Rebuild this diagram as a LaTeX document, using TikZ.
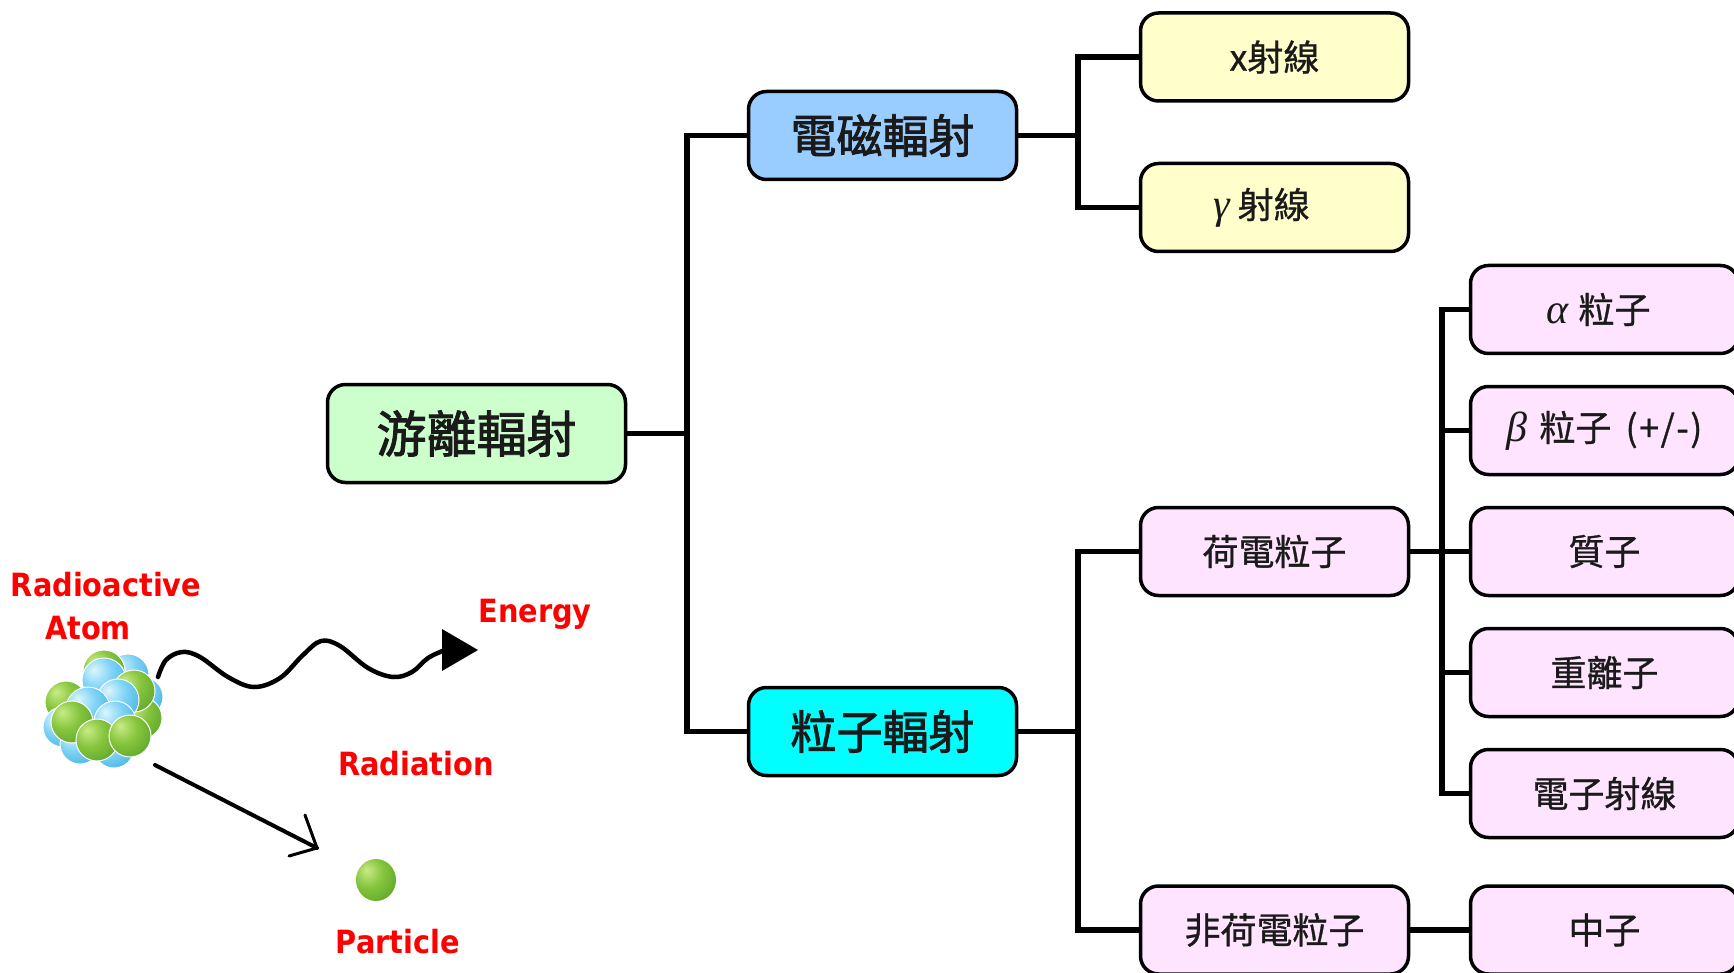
\documentclass[tikz,border=0pt]{standalone}
\usepackage{fontspec}
\newfontfamily\cjk{Noto Sans CJK TC}[FakeBold=0.8]
\newfontfamily\cjkbig{Noto Sans CJK TC}[FakeBold=1.8]
\newfontfamily\grk{Liberation Serif}
\newfontfamily\lab{DejaVu Sans}[FakeStretch=0.9]
\usetikzlibrary{calc}

\definecolor{greenbox}{HTML}{CCFFCC}
\definecolor{bluebox}{HTML}{99CCFF}
\definecolor{cyanbox}{HTML}{00FFFF}
\definecolor{yellowbox}{HTML}{FFFFCC}
\definecolor{pinkbox}{HTML}{FFE4FF}
\definecolor{ink}{HTML}{1A1A1A}
\definecolor{labred}{HTML}{FF0000}
\definecolor{blueHi}{HTML}{DDF6FF}
\definecolor{blueMid}{HTML}{7FD3F5}
\definecolor{blueLo}{HTML}{2FA8DC}
\definecolor{greenHi}{HTML}{C8EC86}
\definecolor{greenMid}{HTML}{86C53E}
\definecolor{greenLo}{HTML}{4E9A22}

% glossy spheres for the nucleus
\pgfdeclareradialshading{bluesph}{\pgfpoint{-12bp}{12bp}}{%
  color(0bp)=(blueHi); color(18bp)=(blueMid); color(45bp)=(blueLo); color(80bp)=(blueLo)}
\pgfdeclareradialshading{greensph}{\pgfpoint{-12bp}{12bp}}{%
  color(0bp)=(greenHi); color(18bp)=(greenMid); color(45bp)=(greenLo); color(80bp)=(greenLo)}

\newcommand{\gk}[1]{{\grk\itshape\fontsize{42}{44}\selectfont #1}}

\tikzset{
  box/.style={draw=black, line width=3.5pt, rounded corners=18pt,
    minimum width=268pt, minimum height=88pt, inner sep=0pt, text=ink,
    font=\cjk\fontsize{36}{40}\selectfont},
  bigbox/.style={box, font=\cjkbig\fontsize{46}{50}\selectfont},
  conn/.style={draw=black, line width=5.5pt, line join=miter, line cap=rect},
  redlabel/.style={anchor=base, inner sep=0pt, text=labred,
    font=\lab\bfseries\fontsize{32}{36}\selectfont},
  bluenuc/.style={shading=bluesph},
  greennuc/.style={shading=greensph},
  rim/.style={draw=white, line width=1pt}
}

\newcommand{\nucball}[4]{% style, x, y, radius
  \shade[#1] (#2,#3) circle (#4);
  \draw[rim] (#2,#3) circle (#4);}

\begin{document}
\begin{tikzpicture}[x=1pt,y=-1pt]
\useasboundingbox (0,0) rectangle (1734,973);
\clip (0,0) rectangle (1734,973);

% trunk positions
\coordinate (t1) at (687,0);
\coordinate (t2) at (1078,0);
\coordinate (t3) at (1442,0);

% boxes
\node[bigbox, fill=greenbox, minimum width=298pt, minimum height=98pt,
      font=\cjkbig\fontsize{50}{56}\selectfont] (ion) at (476.5,433.5) {游離輻射};
\node[bigbox, fill=bluebox] (em) at (882.5,135.5) {電磁輻射};
\node[bigbox, fill=cyanbox] (part) at (882.5,731.5) {粒子輻射};

\node[box, fill=yellowbox] (xray) at (1274.5,57) {x射線};
\node[box, fill=yellowbox] (gamma) at (1274.5,207.5) {\gk{γ}\hspace{8pt}射線\hspace*{26pt}};

\node[box, fill=pinkbox] (charged) at (1274.5,551.5) {荷電粒子};
\node[box, fill=pinkbox] (neutral) at (1274.5,930) {非荷電粒子};

\node[box, fill=pinkbox] (alpha) at (1604.5,309.5) {\gk{α}\hspace{10pt}粒子\hspace*{12pt}};
\node[box, fill=pinkbox] (beta) at (1604.5,430.5)
  {\gk{β}\hspace{12pt}粒子\hspace{14pt}(\hspace{1.5pt}+\hspace{1.5pt}/\hspace{1.5pt}-\hspace{1.5pt})};
\node[box, fill=pinkbox] (proton) at (1604.5,551.5) {質子};
\node[box, fill=pinkbox] (heavy) at (1604.5,672.5) {重離子};
\node[box, fill=pinkbox] (electron) at (1604.5,793.5) {電子射線};
\node[box, fill=pinkbox] (neutron) at (1604.5,930) {中子};

% connectors
\draw[conn] (ion.east) -- (ion.east -| t1);
\draw[conn] (em.west) -- (em.west -| t1) -- (part.west -| t1) -- (part.west);

\draw[conn] (em.east) -- (em.east -| t2);
\draw[conn] (xray.west) -- (xray.west -| t2) -- (gamma.west -| t2) -- (gamma.west);

\draw[conn] (part.east) -- (part.east -| t2);
\draw[conn] (charged.west) -- (charged.west -| t2) -- (neutral.west -| t2) -- (neutral.west);

\draw[conn] (charged.east) -- (proton.west);
\draw[conn] (alpha.west) -- (alpha.west -| t3) -- (electron.west -| t3) -- (electron.west);
\draw[conn] (beta.west) -- (beta.west -| t3);
\draw[conn] (heavy.west) -- (heavy.west -| t3);

\draw[conn] (neutral.east) -- (neutron.west);

% nucleus: back layer
\nucball{bluenuc}{128}{675}{21}
\nucball{greennuc}{104}{671}{21}
\nucball{bluenuc}{143}{697}{20}
\nucball{greennuc}{66}{702}{21}
\nucball{bluenuc}{63}{727}{20}
\nucball{bluenuc}{80}{744}{20}
\nucball{bluenuc}{114}{748}{20}
\nucball{greennuc}{141}{718}{21}
% nucleus: front layer
\nucball{bluenuc}{104}{680}{22}
\nucball{greennuc}{134}{691}{21}
\nucball{bluenuc}{118}{700}{21}
\nucball{bluenuc}{88}{709}{22}
\nucball{greennuc}{72}{722}{21}
\nucball{bluenuc}{115}{722}{21}
\nucball{greennuc}{97}{740}{21}
\nucball{greennuc}{130}{736}{21}

% emitted particle
\shade[greennuc] (376,880) ellipse (20 and 21);

% energy wave
\coordinate (wstart) at (158,677);
\coordinate (tip) at (478,650);
\draw[line width=4.5pt, line cap=round, line join=round]
  plot[smooth, tension=0.6] coordinates {(158,677) (166,660) (182,652) (200,657)
  (228,677) (254,687) (280,678) (303,655) (321,641) (340,646) (368,668)
  (393,677) (412,672) (428,658) (445,650)};
\fill[black] (442,629) -- (tip) -- (442,671) -- cycle;

% particle track
\coordinate (pstart) at (155,765);
\coordinate (ptip) at (317,848);
\coordinate (parm1) at (305,815);
\coordinate (parm2) at (289,856);
\draw[line width=4pt, line cap=round] (pstart) -- (ptip);
\draw[line width=3pt, line cap=round, line join=round] (parm1) -- (ptip) -- (parm2);

% labels
\node[redlabel] (lradio) at (106,596) {Radioactive};
\node[redlabel] (latom) at (88,639) {Atom};
\node[redlabel] (lenergy) at (535,622) {Energy};
\node[redlabel] (lrad) at (416,775) {Radiation};
\node[redlabel] (lpart) at (398,953) {Particle};
\end{tikzpicture}
\end{document}
